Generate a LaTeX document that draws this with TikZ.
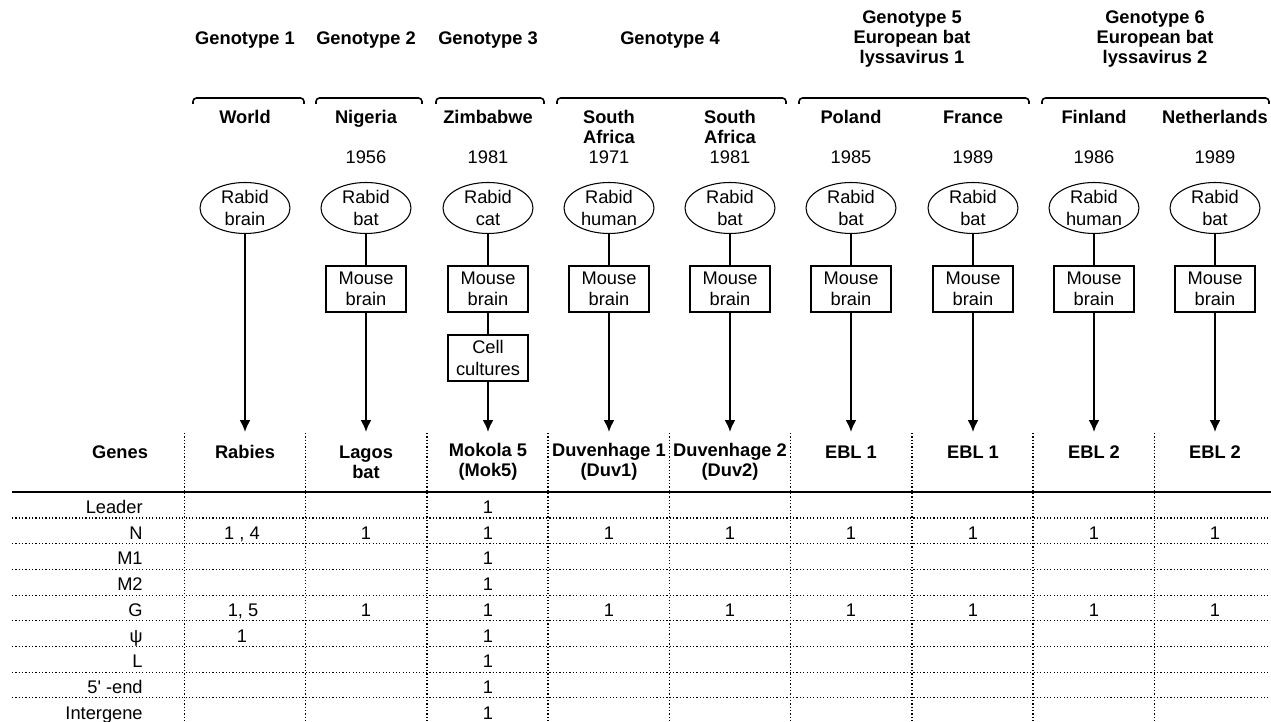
\documentclass[tikz,border=0pt]{standalone}
\usepackage{fontspec}
\setmainfont{Liberation Sans}
\usetikzlibrary{arrows.meta,shapes.geometric}

\begin{document}
\begin{tikzpicture}[
  x=0.02cm, y=-0.02cm,
  font=\fontsize{10.4}{12.3}\selectfont,
  hdr/.style={font=\fontsize{10.4}{11.5}\selectfont\bfseries, align=center, inner sep=0pt},
  one/.style={text height=7.4pt, text depth=0pt, inner sep=0pt},
  src/.style={draw, ellipse, line width=0.6pt, minimum width=1.8cm, minimum height=1.02cm, inner sep=0pt, align=center},
  psg/.style={draw, rectangle, line width=0.6pt, minimum width=1.6cm, minimum height=0.92cm, inner sep=0pt, align=center},
  lnk/.style={line width=0.6pt},
  arr/.style={-{Latex[length=2.4mm,width=2.2mm]}, line width=1.1pt},
  brk/.style={line width=0.9pt, rounded corners=2pt},
  dotrule/.style={line width=0.6pt, dash pattern=on 0.7pt off 1.2pt},
  entry/.style={one}
]
\useasboundingbox (0,0) rectangle (1271,722);

% genotypes
\node[hdr, one] (g1) at (245,38) {Genotype 1};
\node[hdr, one] (g2) at (366,38) {Genotype 2};
\node[hdr, one] (g3) at (488,38) {Genotype 3};
\node[hdr, one] (g4) at (670,38) {Genotype 4};
\node[hdr] (g5) at (912,39) {Genotype 5\\European bat\\lyssavirus 1};
\node[hdr] (g6) at (1155,39) {Genotype 6\\European bat\\lyssavirus 2};

% brackets
\draw[brk] (193,104) |- (304,98) -- (304,104);
\draw[brk] (316,104) |- (422,98) -- (422,104);
\draw[brk] (436,104) |- (544,98) -- (544,104);
\draw[brk] (557,104) |- (786,98) -- (786,104);
\draw[brk] (799,104) |- (1029,98) -- (1029,104);
\draw[brk] (1042,104) |- (1269,98) -- (1269,104);

% places and years
\node[hdr, one] (p1) at (245,117) {World};
\node[hdr, one] (p2) at (366,117) {Nigeria};
\node[hdr, one] (p3) at (488,117) {Zimbabwe};
\node[hdr] (p4) at (609,127) {South\\Africa};
\node[hdr] (p5) at (730,127) {South\\Africa};
\node[hdr, one] (p6) at (851,117) {Poland};
\node[hdr, one] (p7) at (973,117) {France};
\node[hdr, one] (p8) at (1094,117) {Finland};
\node[hdr, one] (p9) at (1215,117) {Netherlands};
\node[one] (y2) at (366,157) {1956};
\node[one] (y3) at (488,157) {1981};
\node[one] (y4) at (609,157) {1971};
\node[one] (y5) at (730,157) {1981};
\node[one] (y6) at (851,157) {1985};
\node[one] (y7) at (973,157) {1989};
\node[one] (y8) at (1094,157) {1986};
\node[one] (y9) at (1215,157) {1989};

% isolates
\node[src] (h1) at (245,208) {Rabid\\brain};
\node[src] (h2) at (366,208) {Rabid\\bat};
\node[src] (h3) at (488,208) {Rabid\\cat};
\node[src] (h4) at (609,208) {Rabid\\human};
\node[src] (h5) at (730,208) {Rabid\\bat};
\node[src] (h6) at (851,208) {Rabid\\bat};
\node[src] (h7) at (973,208) {Rabid\\bat};
\node[src] (h8) at (1094,208) {Rabid\\human};
\node[src] (h9) at (1215,208) {Rabid\\bat};
\node[psg] (cc3) at (488,358) {Cell\\cultures};
\coordinate (t1) at (245,432);
\draw[arr] (h1) -- (t1);
\foreach \x/\i in {366/2,488/3,609/4,730/5,851/6,973/7,1094/8,1215/9} {
  \node[psg] (m\i) at (\x,289) {Mouse\\brain};
  \coordinate (t\i) at (\x,432);
  \draw[lnk] (h\i) -- (m\i);
}
\foreach \i in {2,4,5,6,7,8,9}
  \draw[arr] (m\i) -- (t\i);
\draw[lnk] (m3) -- (cc3);
\draw[arr] (cc3) -- (t3);

% table head
\node[hdr, one] (genes) at (120,452) {Genes};
\node[hdr, one] (v1) at (245,452) {Rabies};
\node[hdr] (v2) at (366,462) {Lagos\\bat};
\node[hdr] (v3) at (488,462) {Mokola 5\\(Mok5)};
\node[hdr] (v4) at (609,462) {Duvenhage 1\\(Duv1)};
\node[hdr] (v5) at (730,462) {Duvenhage 2\\(Duv2)};
\node[hdr, one] (v6) at (851,452) {EBL 1};
\node[hdr, one] (v7) at (973,452) {EBL 1};
\node[hdr, one] (v8) at (1094,452) {EBL 2};
\node[hdr, one] (v9) at (1215,452) {EBL 2};

% rules
\draw[line width=1pt] (12,492) -- (1271,492);
\foreach \j in {0,...,7}
  \draw[dotrule] (12,{518+25.7*\j}) -- (1271,{518+25.7*\j});
\foreach \x in {184.4,305.6,427,548,669.4,790.6,912,1033,1154.4}
  \draw[dotrule] (\x,433) -- (\x,722);

% genes and entries
\foreach \lab [count=\i from 0] in {Leader,N,M1,M2,G,ψ,L,5\textquotesingle{} -end,Intergene}
  \node[entry, anchor=east] (r\i) at (143,{507+25.7*\i}) {\lab};
\foreach \i in {0,...,8}
  \node[entry] (k\i) at (488,{507+25.7*\i}) {1};
\foreach \x/\c in {366/2,609/4,730/5,851/6,973/7,1094/8,1215/9} {
  \node[entry] (n\c) at (\x,532.7) {1};
  \node[entry] (gg\c) at (\x,609.8) {1};
}
\node[entry] (n1) at (242,532.7) {1 , 4};
\node[entry] (gg1) at (243,609.8) {1, 5};
\node[entry] (s1) at (242,635.5) {1};
\end{tikzpicture}
\end{document}
